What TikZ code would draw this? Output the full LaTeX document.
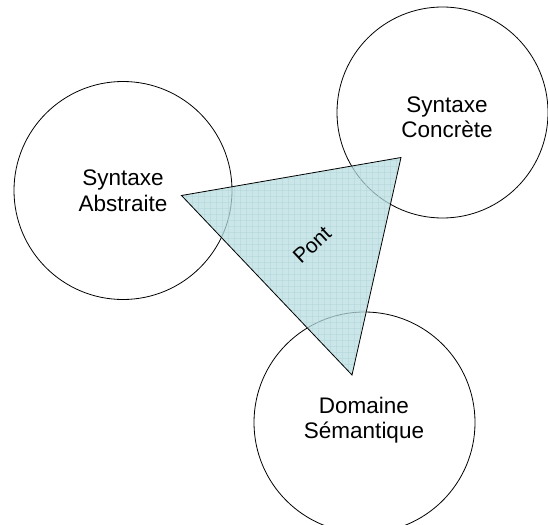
\documentclass[tikz,border=0pt]{standalone}
\usepackage{fontspec}
\setmainfont{Liberation Sans}
\begin{document}
\begin{tikzpicture}[x=1pt,y=-1pt,
  areacircle/.style={draw=black,line width=0.8pt,circle,inner sep=0pt},
  areatext/.style={align=center,font=\fontsize{22.5}{25.5}\selectfont,inner sep=0pt},
  bridge/.style={fill={rgb,255:red,182;green,220;blue,223},fill opacity=0.72},
  gridline/.style={draw={rgb,255:red,165;green,208;blue,212},line width=0.5pt,opacity=0.35}]
\useasboundingbox (0,0) rectangle (548,524);
\clip (0,0) rectangle (548,524);

% the three domains
\node[areacircle,minimum size=218pt] (abs) at (123,190.5) {};
\node[areacircle,minimum size=211pt] (conc) at (442.5,112.5) {};
\node[areacircle,minimum size=221pt] (sem) at (364.5,422.5) {};

\node[areatext] (absT) at (123,191) {Syntaxe\\Abstraite};
\node[areatext] (concT) at (447,117.5) {Syntaxe\\Concrète};
\node[areatext] (semT) at (364,420) {Domaine\\Sémantique};

% the bridge between them
\coordinate (pa) at (181.5,195.5);
\coordinate (pb) at (401,157.5);
\coordinate (pc) at (352,375);
\fill[bridge] (pa) -- (pb) -- (pc) -- cycle;
\begin{scope}
  \clip (pa) -- (pb) -- (pc) -- cycle;
  \foreach \gx in {180,186,...,402} {\draw[gridline] (\gx,150) -- (\gx,380);}
  \foreach \gy in {154,160,...,378} {\draw[gridline] (175,\gy) -- (405,\gy);}
\end{scope}
\draw[line width=0.8pt,line join=miter] (pa) -- (pb) -- (pc) -- cycle;
\node[font=\fontsize{21}{24}\selectfont,rotate=43,inner sep=0pt] (pont) at (312,245) {Pont};
\end{tikzpicture}
\end{document}
